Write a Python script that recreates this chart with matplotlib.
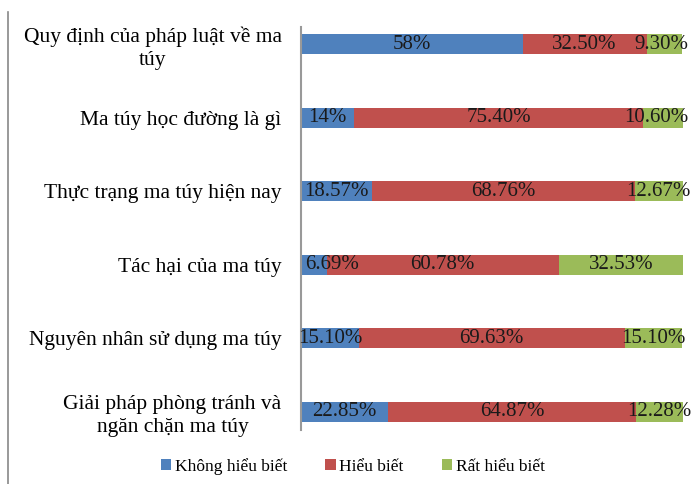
import matplotlib.pyplot as plt
from matplotlib.lines import Line2D

plt.rcParams['font.family'] = ['Liberation Serif', 'DejaVu Serif']

categories = [
    "Quy định của pháp luật về ma\ntúy",
    "Ma túy học đường là gì",
    "Thực trạng ma túy hiện nay",
    "Tác hại của ma túy",
    "Nguyên nhân sử dụng ma túy",
    "Giải pháp phòng tránh và\nngăn chặn ma túy",
]
khong_hieu = [58, 14, 18.57, 6.69, 15.10, 22.85]
hieu = [32.50, 75.40, 68.76, 60.78, 69.63, 64.87]
rat_hieu = [9.30, 10.60, 12.67, 32.53, 15.10, 12.28]
labels_k = ["58%", "14%", "18.57%", "6.69%", "15.10%", "22.85%"]
labels_h = ["32.50%", "75.40%", "68.76%", "60.78%", "69.63%", "64.87%"]
labels_r = ["9.30%", "10.60%", "12.67%", "32.53%", "15.10%", "12.28%"]

series = [
    ("Không hiểu biết", khong_hieu, labels_k, "#4F81BD"),
    ("Hiểu biết", hieu, labels_h, "#C0504D"),
    ("Rất hiểu biết", rat_hieu, labels_r, "#9BBB59"),
]

fig = plt.figure(figsize=(6.92, 4.84), dpi=100)
ax = fig.add_axes([0.435, 0.112, 0.552, 0.832])

y = list(range(len(categories)))
left = [0] * len(categories)
for i, (name, vals, labs, color) in enumerate(series):
    bars = ax.barh(y, vals, left=left, height=0.27, color=color, label=name)
    for b, lab, v in zip(bars, labs, vals):
        yc = b.get_y() + b.get_height() / 2
        kw = dict(va='center', fontsize=15, color='#1a1a1a')
        if i == 0 and v < 10:
            # too wide for the segment: start at the bar's left edge
            ax.text(b.get_x() + 1, yc, lab, ha='left', **kw)
        elif i == 2 and v < 11:
            # keep inside the picture at the right edge
            ax.text(101.3, yc, lab, ha='right', clip_on=False, **kw)
        else:
            ax.text(b.get_x() + b.get_width() / 2, yc, lab, ha='center', **kw)
    left = [l + v for l, v in zip(left, vals)]

ax.set_xlim(0, 100)
ax.set_ylim(len(categories) - 1 + 0.245, -0.23)
ax.set_yticks(y)
ax.set_yticklabels(categories, fontsize=15.5, multialignment='center',
                   linespacing=1.3)
ax.tick_params(axis='y', length=0, pad=14)
ax.set_xticks([])
for s in ['top', 'right', 'bottom']:
    ax.spines[s].set_visible(False)
ax.spines['left'].set_color('#999999')
ax.spines['left'].set_linewidth(1.5)

fig.legend(loc='center', bbox_to_anchor=(0.51, 0.037), ncol=3, frameon=False,
           fontsize=12.5, handlelength=0.6, handleheight=0.6, handletextpad=0.2,
           columnspacing=2.2)

fig.add_artist(Line2D([8 / 692, 8 / 692], [0, 1 - 12 / 484], color='#888888', linewidth=1.2))

fig.savefig('out.png', dpi=100)
